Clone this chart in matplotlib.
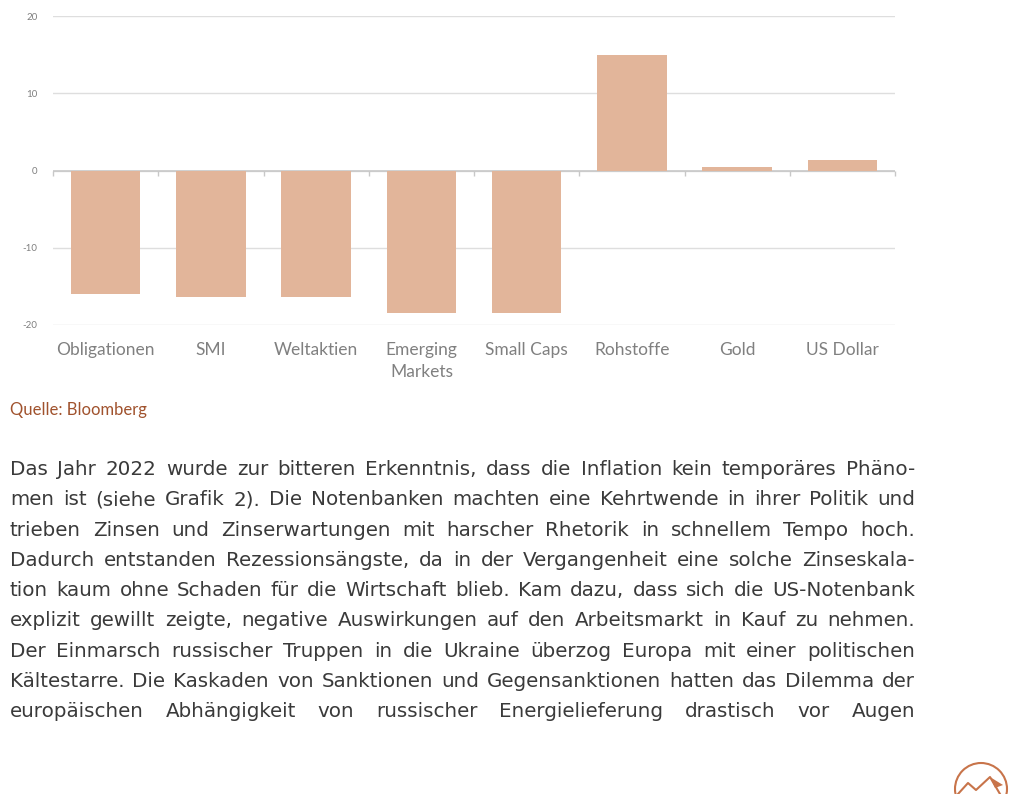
import numpy as np
import matplotlib
matplotlib.use('Agg')
import matplotlib.pyplot as plt
from matplotlib.patches import Circle, Polygon

# data
kategorien = ['Obligationen', 'SMI', 'Weltaktien', 'Emerging\nMarkets',
              'Small Caps', 'Rohstoffe', 'Gold', 'US Dollar']
rendite = [-16.0, -16.4, -16.4, -18.5, -18.5, 15.0, 0.5, 1.4]
y_ticks = [-20, -10, 0, 10, 20]

zeilen = [
    'Das Jahr 2022 wurde zur bitteren Erkenntnis, dass die Inflation kein temporäres Phäno-',
    'men ist (siehe Grafik 2). Die Notenbanken machten eine Kehrtwende in ihrer Politik und',
    'trieben Zinsen und Zinserwartungen mit harscher Rhetorik in schnellem Tempo hoch.',
    'Dadurch entstanden Rezessionsängste, da in der Vergangenheit eine solche Zinseskala-',
    'tion kaum ohne Schaden für die Wirtschaft blieb. Kam dazu, dass sich die US-Notenbank',
    'explizit gewillt zeigte, negative Auswirkungen auf den Arbeitsmarkt in Kauf zu nehmen.',
    'Der Einmarsch russischer Truppen in die Ukraine überzog Europa mit einer politischen',
    'Kältestarre. Die Kaskaden von Sanktionen und Gegensanktionen hatten das Dilemma der',
    'europäischen Abhängigkeit von russischer Energielieferung drastisch vor Augen',
]

W, H = 1019, 794
fig = plt.figure(figsize=(W / 100, H / 100), dpi=100)
ax = fig.add_axes([53 / W, 1 - 325 / H, (895 - 53) / W, (325 - 16) / H])

x = np.arange(len(kategorien))
ax.bar(x, rendite, width=0.66, color='#E2B59A', zorder=3)
ax.set_xlim(-0.5, len(kategorien) - 0.5)
ax.set_ylim(-20, 20)
ax.set_yticks(y_ticks)
ax.set_yticklabels([str(v) for v in y_ticks], fontsize=7, color='#7f7f7f', family='Lato')
ax.yaxis.grid(True, color='#dedede', lw=1, zorder=0)
ax.tick_params(axis='y', length=0, pad=11)
ax.set_xticks(x)
ax.set_xticklabels(kategorien, fontsize=12.5, color='#808080', family='Lato', linespacing=1.45)
ax.tick_params(axis='x', length=0, pad=12)
for s in ax.spines.values():
    s.set_visible(False)

# zero axis with category separators
ax.axhline(0, color='#c8c8c8', lw=1.2, zorder=2)
grenzen = np.arange(len(kategorien) + 1) - 0.5
ax.vlines(grenzen, -0.7, 0, color='#c8c8c8', lw=1, zorder=2, clip_on=False)

fig.text(10 / W, 1 - 410 / H, 'Quelle: Bloomberg', fontsize=12, color='#A0522D',
         family='Lato', va='center', ha='left')

# justified paragraph
fig.canvas.draw()
renderer = fig.canvas.get_renderer()
links, rechts = 10, 915
y0, dy = 475, 30.3
for i, zeile in enumerate(zeilen):
    woerter = zeile.split(' ')
    yb = 1 - (y0 + i * dy) / H
    objs = [fig.text(0, yb, w, fontsize=14.3, color='#3a3a3a', family='DejaVu Sans',
                     va='baseline', ha='left') for w in woerter]
    breiten = [o.get_window_extent(renderer).width for o in objs]
    luecke = (rechts - links - sum(breiten)) / (len(woerter) - 1)
    pos = links
    for o, b in zip(objs, breiten):
        o.set_x(pos / W)
        pos += b + luecke

# logo, partly cut at the bottom edge
lax = fig.add_axes([0, 0, 1, 1], zorder=-1)
lax.set_xlim(0, W)
lax.set_ylim(H, 0)
lax.axis('off')
logo_farbe = '#C8744A'
lax.add_patch(Circle((981, 789), 26, fill=False, ec=logo_farbe, lw=1.5))
lax.plot([958, 968, 976, 990, 1000], [794, 783, 790, 777, 794],
         color=logo_farbe, lw=1.5)
lax.add_patch(Polygon([(990, 777), (1003, 785), (995, 788)], closed=True,
                      fc=logo_farbe, ec='none'))

fig.savefig('out.png', dpi=100)
